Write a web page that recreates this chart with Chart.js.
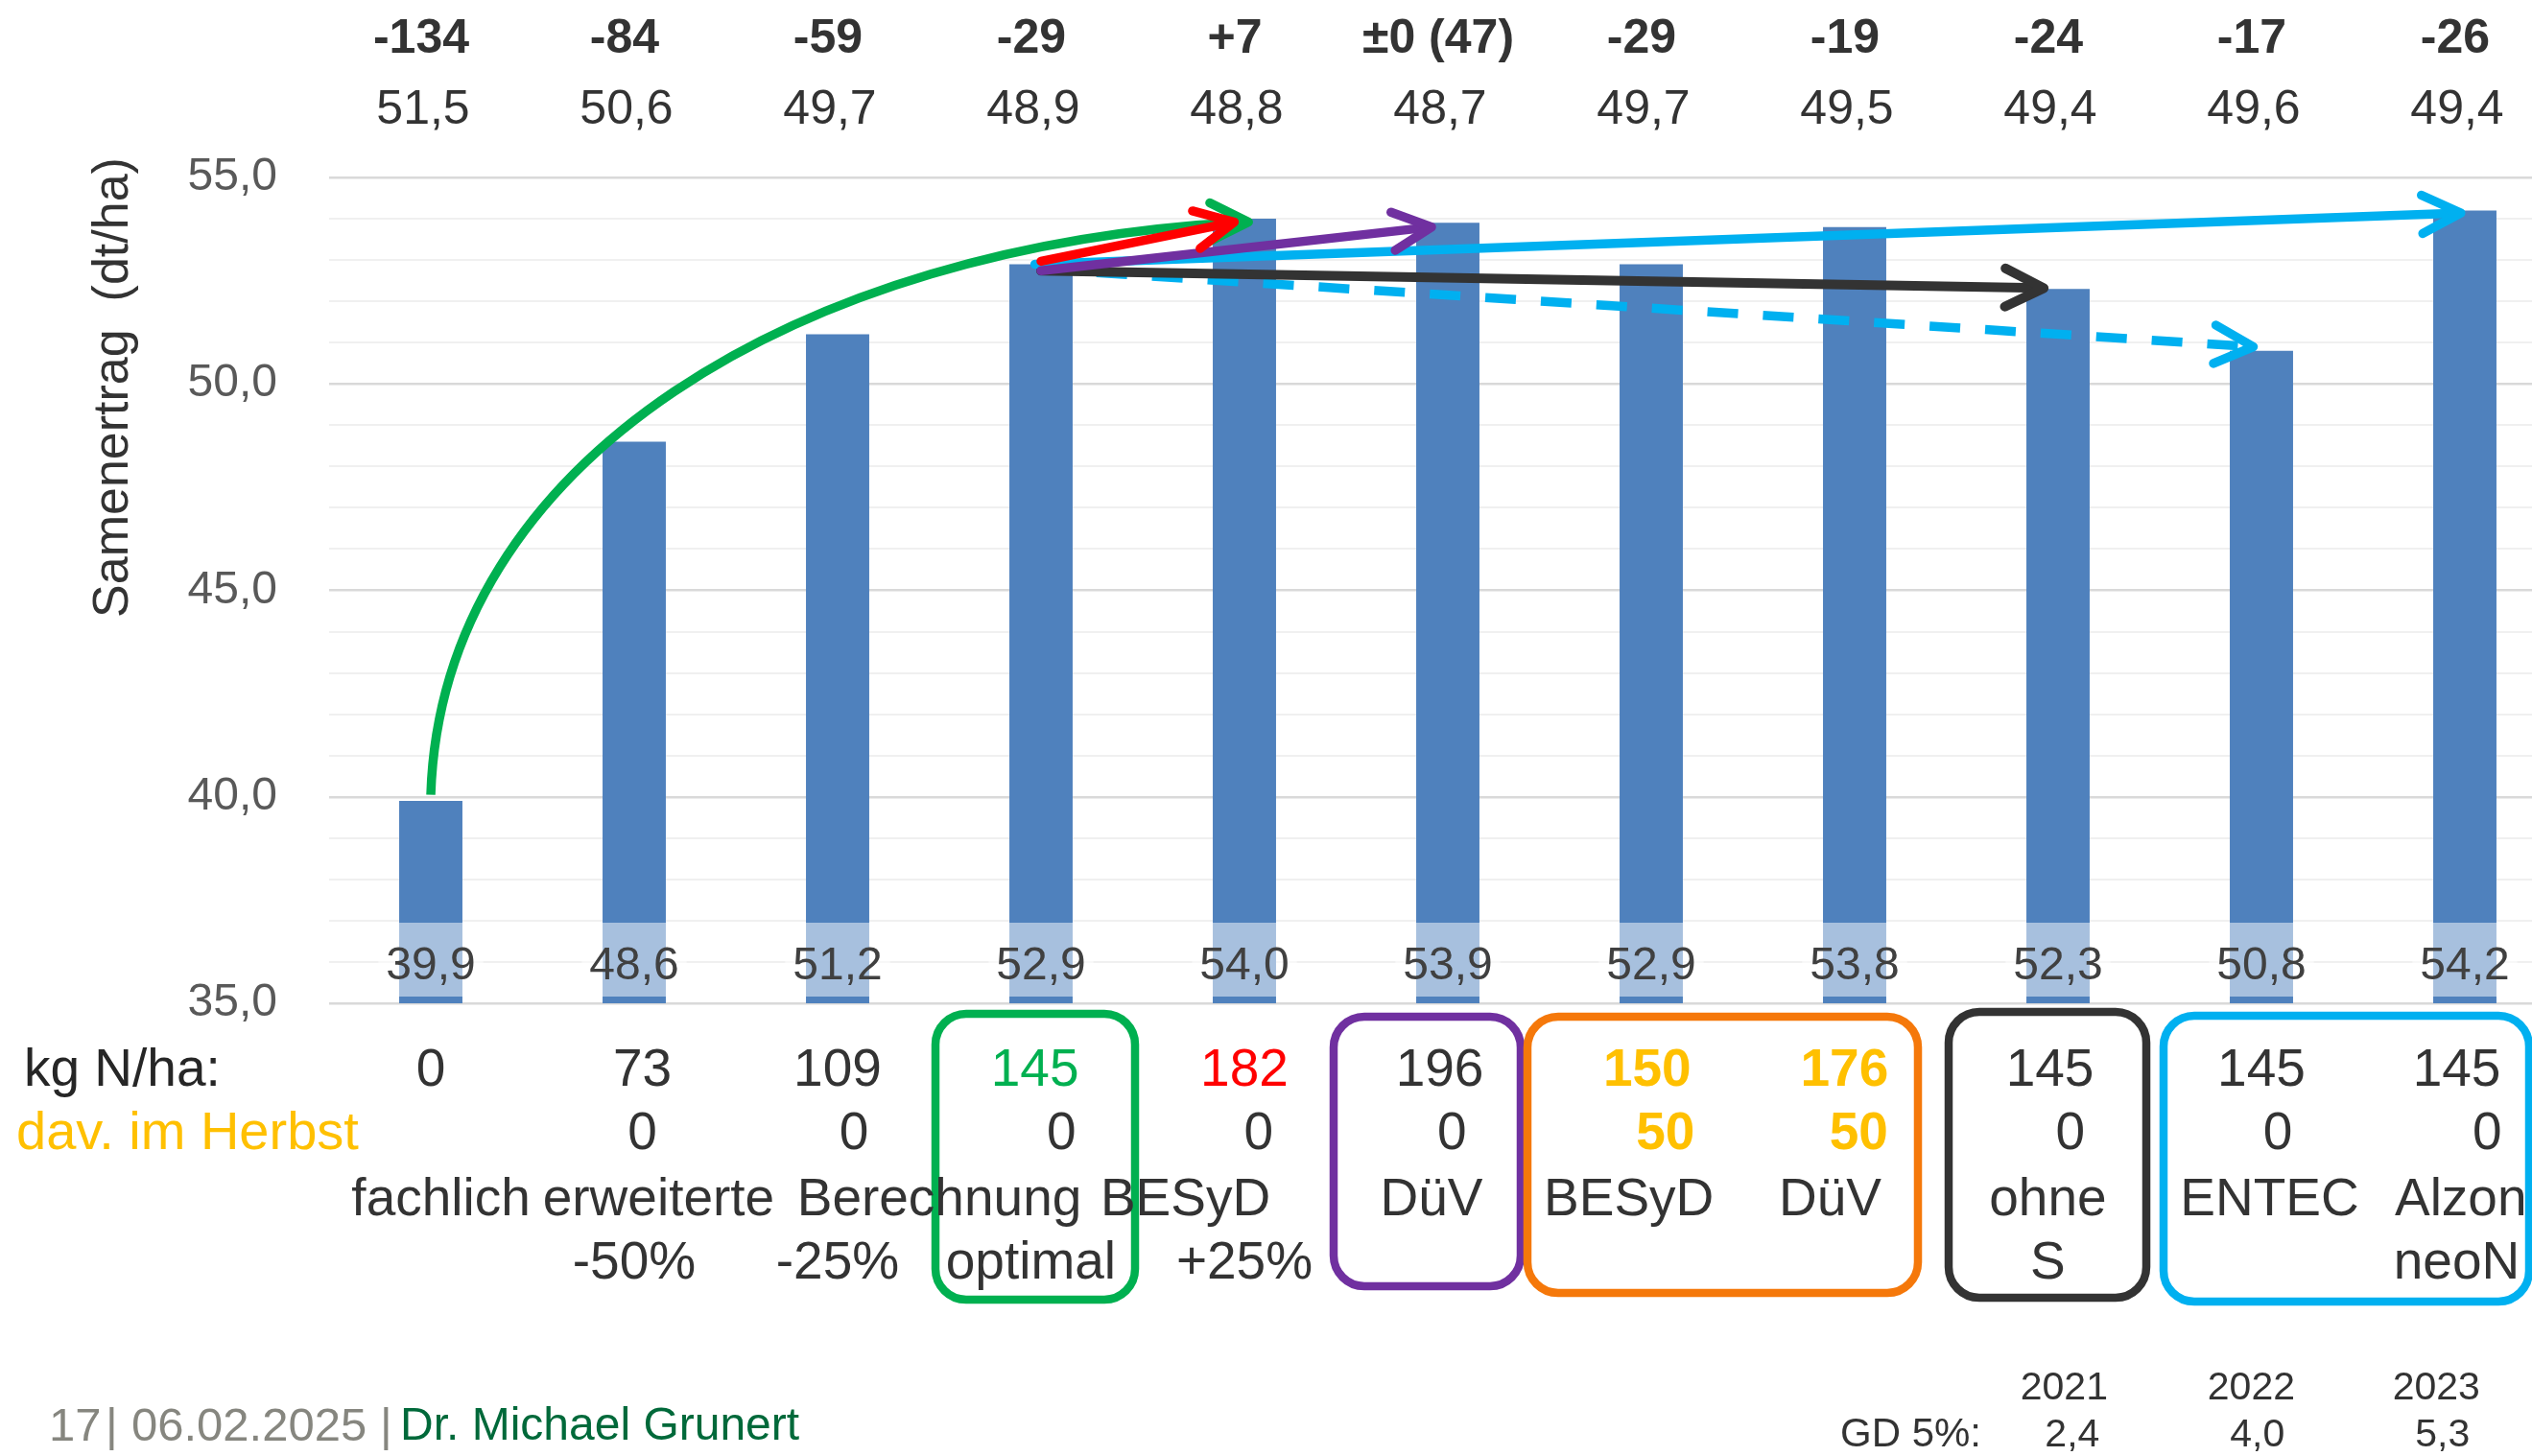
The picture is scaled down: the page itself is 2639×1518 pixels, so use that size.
<!DOCTYPE html>
<html>
<head>
<meta charset="utf-8">
<title>Samenertrag – N-Düngung</title>
<script src="https://cdn.jsdelivr.net/npm/chart.js@4.4.1/dist/chart.umd.min.js"></script>
<style>
  html, body { margin: 0; padding: 0; background: #fff; overflow: hidden; width: 2639px; height: 1518px; }
  #wrap { position: absolute; left: 0; top: 0; width: 2680px; height: 1518px; }
</style>
</head>
<body>
<div id="wrap"><canvas id="chart" width="2680" height="1518"></canvas></div>
<script>
// ---- data -------------------------------------------------------------
const categories = ['fachlich', 'erweiterte -50%', 'Berechnung -25%', 'optimal', 'BESyD +25%',
                    'DüV', 'BESyD', 'DüV', 'ohne S', 'ENTEC', 'Alzon neoN'];
const yields     = [39.9, 48.6, 51.2, 52.9, 54.0, 53.9, 52.9, 53.8, 52.3, 50.8, 54.2];
const yieldText  = ['39,9', '48,6', '51,2', '52,9', '54,0', '53,9', '52,9', '53,8', '52,3', '50,8', '54,2'];
const nSaldo     = ['-134', '-84', '-59', '-29', '+7', '±0 (47)', '-29', '-19', '-24', '-17', '-26'];
const oelgehalt  = ['51,5', '50,6', '49,7', '48,9', '48,8', '48,7', '49,7', '49,5', '49,4', '49,6', '49,4'];
const nGesamt    = ['0', '73', '109', '145', '182', '196', '150', '176', '145', '145', '145'];
const nHerbst    = ['', '0', '0', '0', '0', '0', '50', '50', '0', '0', '0'];
const variante1  = ['fachlich', 'erweiterte', 'Berechnung', 'BESyD', 'DüV', 'BESyD', 'DüV', 'ohne', 'ENTEC', 'Alzon'];
const variante2  = ['-50%', '-25%', 'optimal', '+25%', 'S', 'neoN'];
const gdJahre    = ['2021', '2022', '2023'];
const gdWerte    = ['2,4', '4,0', '5,3'];
const yMin = 35, yMax = 55, yMajor = 5;

// arrows: [fromCategory, fromValue, toCategory, toValue]
const arrowRed      = [3, 52.97, 3.95, 53.92];
const arrowPurple   = [3, 52.74, 4.92, 53.80];
const arrowBlue     = [2.97, 52.90, 9.98, 54.14];
const arrowBlack    = [3, 52.74, 7.93, 52.32];
const arrowBlueDash = [3, 52.78, 8.96, 50.90];
const curveGreen    = [0, 40.05, 4.02, 53.92];

// ---- layout (positions in category units, rows in px) ------------------
const nGesamtAt   = [0, 1.04, 2.0, 2.97, 4.0, 4.96, 5.98, 6.95, 7.96, 9.0, 9.96];
const nHerbstAt   = [0, 1.04, 2.08, 3.1, 4.07, 5.02, 6.07, 7.02, 8.06, 9.08, 10.11];
const variante1At = [0.05, 1.12, 2.5, 3.71, 4.92, 5.89, 6.88, 7.95, 9.04, 9.98];
const variante2At = [1.0, 2.0, 2.95, 4.0, 7.95, 9.96];
const gdAt        = [8.03, 8.95, 9.86];
const gdWertAt    = [8.07, 8.98, 9.89];

const FONT = 'Liberation Sans';
const TXT = '#333333';
const LINE_W = 9.5;

function text(ctx, s, x, yc, o = {}) {
  const size = o.size || 55;
  ctx.font = `${o.weight || 'normal'} ${size}px "${o.family || FONT}"`;
  ctx.fillStyle = o.color || TXT;
  ctx.textAlign = o.align || 'center';
  ctx.textBaseline = 'alphabetic';
  ctx.fillText(s, x, yc + 0.36 * size);
}

function chevron(ctx, x, y, ang, color, width) {
  const len = 45, spread = 0.46;
  ctx.save();
  ctx.strokeStyle = color; ctx.lineWidth = width;
  ctx.lineCap = 'round'; ctx.lineJoin = 'round'; ctx.setLineDash([]);
  ctx.beginPath();
  ctx.moveTo(x - len * Math.cos(ang - spread), y - len * Math.sin(ang - spread));
  ctx.lineTo(x, y);
  ctx.lineTo(x - len * Math.cos(ang + spread), y - len * Math.sin(ang + spread));
  ctx.stroke();
  ctx.restore();
}

function arrow(ctx, X, Y, a, color, width, dash) {
  const x0 = X(a[0]), y0 = Y(a[1]), x1 = X(a[2]), y1 = Y(a[3]);
  const ang = Math.atan2(y1 - y0, x1 - x0);
  ctx.save();
  ctx.strokeStyle = color; ctx.lineWidth = width;
  ctx.lineCap = dash ? 'butt' : 'round';
  ctx.setLineDash(dash || []);
  ctx.beginPath();
  ctx.moveTo(x0, y0);
  ctx.lineTo(x1 - 4 * Math.cos(ang), y1 - 4 * Math.sin(ang));
  ctx.stroke();
  ctx.restore();
  chevron(ctx, x1, y1, ang, color, width);
}

function roundBox(ctx, x0, y0, x1, y1, r, color) {
  ctx.save();
  ctx.strokeStyle = color; ctx.lineWidth = 8.5;
  ctx.beginPath();
  ctx.roundRect(x0, y0, x1 - x0, y1 - y0, r);
  ctx.stroke();
  ctx.restore();
}

const annotations = {
  id: 'annotations',
  afterDraw(chart) {
    const ctx = chart.ctx;
    const xs = chart.scales.x, ys = chart.scales.y;
    const X = v => xs.getPixelForValue(v);
    const Y = v => ys.getPixelForValue(v);
    const base = Y(yMin);

    // value labels at the bar base, on a half-transparent white box
    const bars = chart.getDatasetMeta(0).data;
    ctx.save();
    ctx.font = `48px "${FONT}"`;
    bars.forEach((bar, i) => {
      const w = ctx.measureText(yieldText[i]).width + 16;
      ctx.fillStyle = 'rgba(255,255,255,0.5)';
      ctx.fillRect(bar.x - w / 2, base - 84, w, 77);
    });
    ctx.restore();
    bars.forEach((bar, i) => text(ctx, yieldText[i], bar.x, base - 42, { size: 48, color: '#404040' }));

    // trend curve and arrows
    {
      const x0 = X(curveGreen[0]), y0 = Y(curveGreen[1]);
      const x3 = X(curveGreen[2]), y3 = Y(curveGreen[3]);
      const dx = x3 - x0, dy = y0 - y3;
      ctx.save();
      ctx.strokeStyle = '#00B050'; ctx.lineWidth = LINE_W; ctx.lineCap = 'butt';
      ctx.beginPath();
      ctx.moveTo(x0, y0);
      ctx.bezierCurveTo(x0 + 0.013 * dx, y0 - 0.585 * dy, x3 - 0.55 * dx, y3 + 0.04 * dy, x3 - 4, y3);
      ctx.stroke();
      ctx.restore();
      chevron(ctx, x3, y3, 0, '#00B050', LINE_W);
    }
    arrow(ctx, X, Y, arrowBlueDash, '#00B0F0', LINE_W, [32, 26]);
    arrow(ctx, X, Y, arrowBlack, '#333333', LINE_W + 0.5);
    arrow(ctx, X, Y, arrowBlue, '#00B0F0', LINE_W);
    arrow(ctx, X, Y, arrowPurple, '#7030A0', LINE_W);
    arrow(ctx, X, Y, arrowRed, '#FF0000', LINE_W);

    // y axis title
    ctx.save();
    ctx.translate(114, 404);
    ctx.rotate(-Math.PI / 2);
    text(ctx, 'Samenertrag  (dt/ha)', 0, 0, { size: 52, color: '#333333' });
    ctx.restore();

    // header rows: N balance (bold) and oil content
    nSaldo.forEach((s, i) => text(ctx, s, X(i) - 10, 37, { size: 50, weight: 'bold' }));
    oelgehalt.forEach((s, i) => text(ctx, s, X(i) - 8, 111, { size: 50 }));

    // groups
    roundBox(ctx, X(3) - 110, 1057, X(3) + 98, 1355, 32, '#00B050');
    roundBox(ctx, X(5) - 119, 1060, X(5) + 76, 1341, 32, '#7030A0');
    roundBox(ctx, X(6) - 129, 1060, X(7) + 66, 1348, 32, '#F5780A');
    roundBox(ctx, X(8) - 114, 1055, X(8) + 92, 1353, 32, '#333333');
    roundBox(ctx, X(9) - 102, 1059, X(10) + 67, 1357, 32, '#00B0F0');

    // N rows
    text(ctx, 'kg N/ha:', 25, 1112, { align: 'left', color: '#262626' });
    text(ctx, 'dav. im Herbst', 17, 1178, { size: 56, align: 'left', color: '#FFC000' });
    const nColor = ['', '', '', '#00B050', '#FF0000', '', '#FFC000', '#FFC000', '', '', ''];
    const nBold  = [0, 0, 0, 0, 0, 0, 1, 1, 0, 0, 0];
    nGesamt.forEach((s, i) => text(ctx, s, X(nGesamtAt[i]), 1112,
      { color: nColor[i] || TXT, weight: nBold[i] ? 'bold' : 'normal' }));
    nHerbst.forEach((s, i) => {
      if (!s) return;
      text(ctx, s, X(nHerbstAt[i]), 1178, { color: nBold[i] ? '#FFC000' : TXT, weight: nBold[i] ? 'bold' : 'normal' });
    });
    variante1.forEach((s, i) => text(ctx, s, X(variante1At[i]), 1247));
    variante2.forEach((s, i) => text(ctx, s, X(variante2At[i]), 1313));

    // LSD
    gdJahre.forEach((s, i) => text(ctx, s, X(gdAt[i]), 1444, { size: 41 }));
    text(ctx, 'GD 5%:', 2065, 1493, { size: 42, align: 'right' });
    gdWerte.forEach((s, i) => text(ctx, s, X(gdWertAt[i]), 1493, { size: 41 }));

    // footer
    const grey = '#86867f';
    text(ctx, '17', 51, 1484, { size: 49, align: 'left', color: grey });
    text(ctx, '|', 110, 1484, { size: 49, align: 'left', color: grey });
    text(ctx, '06.02.2025', 137, 1484, { size: 49, align: 'left', color: grey });
    text(ctx, '|', 396, 1484, { size: 49, align: 'left', color: grey });
    text(ctx, 'Dr. Michael Grunert', 417, 1484, { size: 48, align: 'left', color: '#00693A' });
  }
};

new Chart(document.getElementById('chart'), {
  type: 'bar',
  data: {
    labels: categories,
    datasets: [{
      data: yields,
      backgroundColor: '#4F81BD',
      barPercentage: 0.311,
      categoryPercentage: 1
    }]
  },
  options: {
    responsive: false,
    animation: false,
    devicePixelRatio: 1,
    layout: { padding: { left: 0, right: 5, top: 185, bottom: 472 } },
    plugins: { legend: { display: false }, tooltip: { enabled: false } },
    scales: {
      x: { display: false, offset: true },
      y: {
        min: yMin, max: yMax,
        afterFit(scale) { scale.width = 343; },
        border: { display: false },
        grid: {
          drawTicks: false,
          color: c => (c.tick && c.tick.value % yMajor === 0) ? '#D9D9D9' : '#F0F0F0',
          lineWidth: c => (c.tick && c.tick.value % yMajor === 0) ? 2.5 : 2
        },
        ticks: {
          stepSize: 1,
          autoSkip: false,
          padding: 54,
          color: '#595959',
          font: { family: FONT, size: 48 },
          callback: v => (v % yMajor === 0) ? v.toFixed(1).replace('.', ',') : ''
        }
      }
    }
  },
  plugins: [annotations]
});
</script>
</body>
</html>
